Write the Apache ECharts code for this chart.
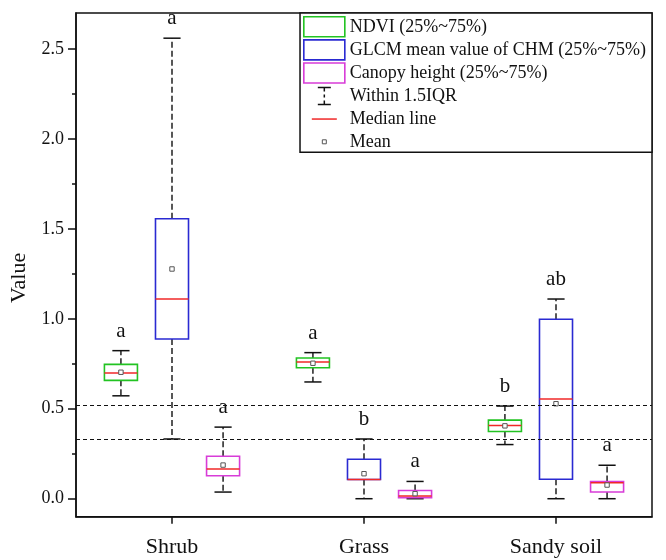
<!DOCTYPE html>
<html>
<head>
<meta charset="utf-8">
<script src="https://cdn.jsdelivr.net/npm/echarts@6/dist/echarts.min.js"></script>
<style>html,body{margin:0;padding:0;background:#fff}#c{width:666px;height:560px}</style>
</head>
<body>
<div id="c"></div>
<script>
// ---- data ----
var categories = ['Shrub', 'Grass', 'Sandy soil'];
// [min, Q1, median, Q3, max, mean]
var ndviStats = [
  [0.572, 0.658, 0.699, 0.747, 0.823, 0.703],
  [0.649, 0.728, 0.760, 0.782, 0.812, 0.753],
  [0.301, 0.374, 0.407, 0.437, 0.515, 0.405]
];
var glcmStats = [
  [0.332, 0.888, 1.110, 1.556, 2.560, 1.277],
  [0.000, 0.107, 0.107, 0.219, 0.332, 0.139],
  [0.000, 0.108, 0.554, 0.998, 1.110, 0.528]
];
var canopyStats = [
  [0.037, 0.128, 0.165, 0.236, 0.398, 0.187],
  [0.000, 0.006, 0.015, 0.046, 0.096, 0.028],
  [0.000, 0.037, 0.089, 0.095, 0.186, 0.076]
];
var ndviLetters = ['a', 'a', 'b'];
var glcmLetters = ['a', 'b', 'ab'];
var canopyLetters = ['a', 'a', 'a'];
var refLines = [0.519, 0.329];
var yMajorTicks = [0, 0.5, 1.0, 1.5, 2.0, 2.5];
var yMinorTicks = [0.25, 0.75, 1.25, 1.75, 2.25];
var seriesNames = ['NDVI (25%~75%)', 'GLCM mean value of CHM (25%~75%)', 'Canopy height (25%~75%)'];

// ---- styles ----
var FONT = '"Liberation Serif", "Times New Roman", serif';
var INK = '#111';
var colors = ['#22c322', '#2a2ad2', '#d83cd8'];
var medianColor = '#f02828';

function toRows(stats) {
  return stats.map(function (r, i) { return [i].concat(r); });
}

function makeRender(color, offsetFrac, letters) {
  return function (params, api) {
    var ci = api.value(0);
    var bw = api.size([1, 0])[0];
    var cx = api.coord([ci, 0])[0] + bw * offsetFrac;
    var w = bw * 0.172;
    var cw = w * 0.52;
    var yMin = api.coord([ci, api.value(1)])[1];
    var yQ1 = api.coord([ci, api.value(2)])[1];
    var yMed = api.coord([ci, api.value(3)])[1];
    var yQ3 = api.coord([ci, api.value(4)])[1];
    var yMax = api.coord([ci, api.value(5)])[1];
    var yMean = api.coord([ci, api.value(6)])[1];
    var dash = { stroke: INK, lineWidth: 1.4, lineDash: [6, 3] };
    var solid = { stroke: INK, lineWidth: 1.5 };
    return {
      type: 'group',
      children: [
        { type: 'line', shape: { x1: cx, y1: yQ3, x2: cx, y2: yMax }, style: dash },
        { type: 'line', shape: { x1: cx, y1: yQ1, x2: cx, y2: yMin }, style: dash },
        { type: 'line', shape: { x1: cx - cw / 2, y1: yMax, x2: cx + cw / 2, y2: yMax }, style: solid },
        { type: 'line', shape: { x1: cx - cw / 2, y1: yMin, x2: cx + cw / 2, y2: yMin }, style: solid },
        { type: 'rect', shape: { x: cx - w / 2, y: yQ3, width: w, height: yQ1 - yQ3 },
          style: { fill: 'none', stroke: color, lineWidth: 1.6 } },
        { type: 'line', shape: { x1: cx - w / 2, y1: yMed, x2: cx + w / 2, y2: yMed },
          style: { stroke: medianColor, lineWidth: 1.5 } },
        { type: 'rect', shape: { x: cx - 2.2, y: yMean - 2.2, width: 4.4, height: 4.4 },
          style: { fill: '#fff', stroke: '#555', lineWidth: 1 } },
        { type: 'text', x: cx, y: yMax - 9,
          style: { text: letters[params.dataIndex], fill: INK, font: '21px ' + FONT,
                   align: 'center', verticalAlign: 'bottom' } }
      ]
    };
  };
}

var chart = echarts.init(document.getElementById('c'), null, { renderer: 'canvas' });

var option = {
  backgroundColor: '#fff',
  animation: false,
  textStyle: { fontFamily: FONT },
  grid: {
    left: 76, right: 14, top: 13, bottom: 43.3,
    show: true, borderColor: INK, borderWidth: 1.5, backgroundColor: 'transparent',
    containLabel: false, outerBoundsMode: 'none'
  },
  legend: {
    show: true,
    orient: 'vertical',
    right: 14, top: 13,
    padding: [3, 6, 0, 3],
    itemWidth: 41, itemHeight: 20, itemGap: 1.5,
    backgroundColor: '#fff',
    borderColor: INK, borderWidth: 1.5, borderRadius: 0,
    selectedMode: false,
    textStyle: { fontFamily: FONT, fontSize: 18, lineHeight: 20, color: INK },
    data: [
      { name: seriesNames[0], icon: 'rect', itemStyle: { color: '#fff', borderColor: colors[0], borderWidth: 1.6 } },
      { name: seriesNames[1], icon: 'rect', itemStyle: { color: '#fff', borderColor: colors[1], borderWidth: 1.6 } },
      { name: seriesNames[2], icon: 'rect', itemStyle: { color: '#fff', borderColor: colors[2], borderWidth: 1.6 } },
      { name: 'Within 1.5IQR', icon: 'path://M0 0M41 20M14 1.5H27M20.5 1.5V5.5M20.5 8.5V11.5M20.5 14.5V18.5M14 18.5H27',
        itemStyle: { color: '#fff', borderColor: INK, borderWidth: 1.5 } },
      { name: 'Median line', icon: 'path://M0 0M41 20M8 10H33',
        itemStyle: { color: '#fff', borderColor: medianColor, borderWidth: 1.5 } },
      { name: 'Mean', icon: 'path://M0 0M41 20M18.5 8H22.5V12H18.5Z',
        itemStyle: { color: '#fff', borderColor: '#555', borderWidth: 1 } }
    ]
  },
  xAxis: {
    type: 'category',
    data: categories,
    boundaryGap: true,
    axisLine: { show: true, onZero: false, lineStyle: { color: INK, width: 1.5 } },
    axisTick: { show: true, alignWithLabel: true, length: 7, lineStyle: { color: INK, width: 1.5 } },
    axisLabel: { fontFamily: FONT, fontSize: 22, color: INK, margin: 20 },
    splitLine: { show: false }
  },
  yAxis: [
    {
      type: 'value', min: -0.1, max: 2.7, position: 'left',
      name: 'Value', nameLocation: 'middle', nameGap: 42, nameRotate: 90,
      nameTextStyle: { fontFamily: FONT, fontSize: 22, color: INK, padding: [0, 26, 0, 0] },
      axisLine: { show: true, onZero: false, lineStyle: { color: INK, width: 1.5 } },
      axisTick: { show: true, length: 8, customValues: yMajorTicks, lineStyle: { color: INK, width: 1.5 } },
      axisLabel: { show: true, customValues: yMajorTicks, fontFamily: FONT, fontSize: 18, color: INK, margin: 12,
        formatter: function (v) { return v.toFixed(1); } },
      splitLine: { show: false }
    },
    {
      type: 'value', min: -0.1, max: 2.7, position: 'left',
      axisLine: { show: false, onZero: false },
      axisTick: { show: true, length: 4, customValues: yMinorTicks, lineStyle: { color: INK, width: 1.5 } },
      axisLabel: { show: false },
      splitLine: { show: false }
    }
  ],
  series: [
    {
      name: seriesNames[0], type: 'custom', data: toRows(ndviStats),
      encode: { x: 0, y: [1, 2, 3, 4, 5, 6] },
      renderItem: makeRender(colors[0], -0.266, ndviLetters),
      itemStyle: { color: colors[0] },
      markLine: {
        silent: true, symbol: 'none',
        label: { show: false },
        lineStyle: { color: INK, width: 1, type: [4, 3] },
        data: refLines.map(function (v) { return { yAxis: v }; })
      }
    },
    {
      name: seriesNames[1], type: 'custom', data: toRows(glcmStats),
      encode: { x: 0, y: [1, 2, 3, 4, 5, 6] },
      renderItem: makeRender(colors[1], 0, glcmLetters),
      itemStyle: { color: colors[1] }
    },
    {
      name: seriesNames[2], type: 'custom', data: toRows(canopyStats),
      encode: { x: 0, y: [1, 2, 3, 4, 5, 6] },
      renderItem: makeRender(colors[2], 0.266, canopyLetters),
      itemStyle: { color: colors[2] }
    },
    { name: 'Within 1.5IQR', type: 'custom', data: [], renderItem: function () { return null; } },
    { name: 'Median line', type: 'custom', data: [], renderItem: function () { return null; } },
    { name: 'Mean', type: 'custom', data: [], renderItem: function () { return null; } }
  ]
};
chart.setOption(option);
</script>
</body>
</html>
